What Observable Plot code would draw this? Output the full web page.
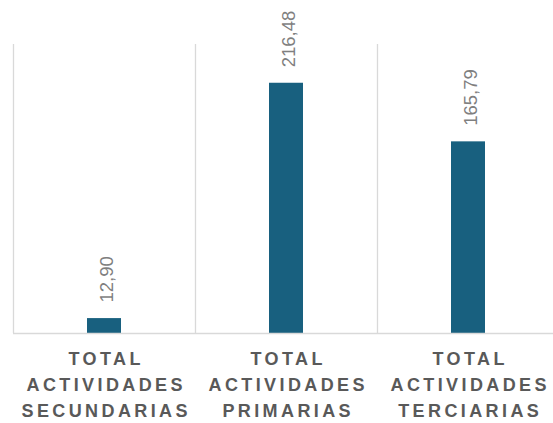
<!DOCTYPE html>
<html>
<head>
<meta charset="utf-8">
<script src="https://cdn.jsdelivr.net/npm/d3@7"></script>
<script src="https://cdn.jsdelivr.net/npm/@observablehq/plot@0.6"></script>
<style>
  html, body { margin: 0; padding: 0; background: #fff; }
  #chart svg { display: block; }
  #chart g[font-weight="bold"] text, #chart g[font-weight="bold"] tspan { letter-spacing: 3.4px; }
</style>
</head>
<body>
<div id="chart"></div>
<script>
const categories = ["SECUNDARIAS", "PRIMARIAS", "TERCIARIAS"];
const values = [12.90, 216.48, 165.79];
const tickLabels = [
  "TOTAL\nACTIVIDADES\nSECUNDARIAS",
  "TOTAL\nACTIVIDADES\nPRIMARIAS",
  "TOTAL\nACTIVIDADES\nTERCIARIAS"
];

const data = categories.map((c, i) => ({cat: c, value: values[i], label: tickLabels[i]}));
const fmt = d3.formatLocale({decimal: ",", thousands: ".", grouping: [3], currency: ["", ""]}).format(".2f");

const W = 553, H = 423;
const xRange = [13, 559];
const step = (xRange[1] - xRange[0]) / categories.length;
const barWidth = 34;
const inset = (step - barWidth) / 2;

const chart = Plot.plot({
  width: W,
  height: H,
  marginLeft: 13,
  marginRight: 0,
  marginTop: 44,
  marginBottom: 90,
  style: {fontFamily: "'Liberation Sans', Arial, sans-serif", background: "#fff"},
  x: {domain: categories, range: xRange, padding: 0, axis: null},
  y: {domain: [0, 250], axis: null},
  marks: [
    Plot.ruleX(categories, {x: d => d, dx: -step / 2, y1: 0, y2: 250, stroke: "#d9d9d9", strokeWidth: 1.3}),
    Plot.barY(data, {x: "cat", y: "value", fill: "#18607f", insetLeft: inset, insetRight: inset}),
    Plot.ruleY([0], {stroke: "#d9d9d9", strokeWidth: 1.5}),
    Plot.text(data, {x: "cat", y: "value", text: d => fmt(d.value), rotate: -90, textAnchor: "start",
      dy: -16, dx: 3, fill: "#7f7f7f", fontSize: 18.5}),
    Plot.text(data, {x: "cat", y: 0, text: "label", lineAnchor: "top", dy: 12.5, dx: 1.7, lineHeight: 1.45,
      fill: "#595959", fontSize: 18, fontWeight: "bold"})
  ]
});

document.getElementById("chart").appendChild(chart);
</script>
</body>
</html>
